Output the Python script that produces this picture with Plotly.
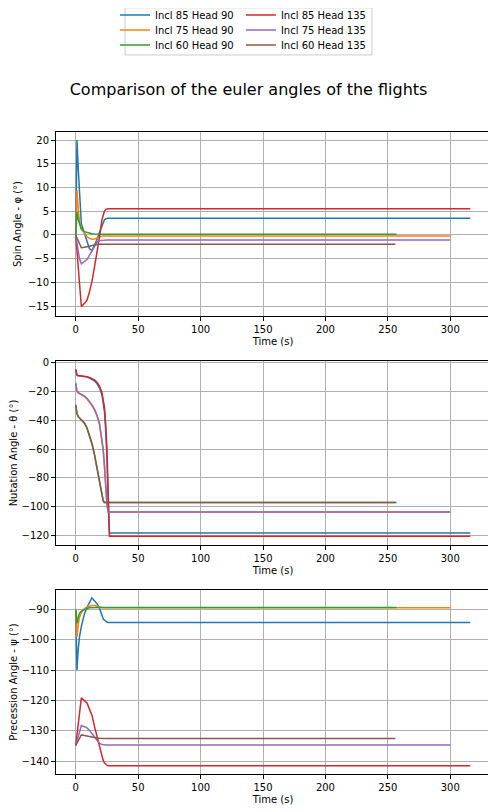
import plotly.graph_objects as go
from plotly.subplots import make_subplots

# sample times (s), shared by every flight, then the last time of each flight
t_early = [0, 1, 2, 3, 4.5, 7, 9, 11, 13, 15, 17, 19, 21, 22, 23, 24, 25, 26, 27]
end_85_90 = 316
end_75_90 = 300
end_60_90 = 257
end_85_135 = 316
end_75_135 = 300
end_60_135 = 256

# spin angle phi (deg)
spin_85_90 = [0, 20, 14, 8, 2.3, 0.3, -1.5, -2.9, -3.3, -2.2, -1.0, 0.5, 2.0, 2.8, 3.2, 3.4, 3.5, 3.5, 3.5, 3.5]
spin_75_90 = [0, 9.5, 5.3, 3.0, 1.3, 0.3, -0.35, -0.7, -0.9, -0.85, -0.6, -0.35, -0.25, -0.2, -0.2, -0.2, -0.2, -0.2, -0.2, -0.2]
spin_60_90 = [0, 4.9, 3.2, 2.2, 1.2, 0.7, 0.5, 0.35, 0.25, 0.2, 0.15, 0.15, 0.15, 0.15, 0.15, 0.15, 0.15, 0.15, 0.15, 0.15]
spin_85_135 = [0, -3.4, -6.9, -10.3, -15.1, -14.4, -13.8, -12.0, -9.8, -6.8, -3.9, -0.5, 3.2, 4.3, 5.0, 5.4, 5.5, 5.5, 5.5, 5.5]
spin_75_135 = [0, -1.5, -3.5, -5.0, -6.1, -5.7, -5.2, -4.3, -3.4, -2.4, -1.5, -1.2, -1.1, -1.05, -1.05, -1.05, -1.05, -1.05, -1.05, -1.05]
spin_60_135 = [0, -0.6, -1.5, -2.1, -2.7, -2.6, -2.45, -2.3, -2.2, -2.1, -2.0, -1.95, -1.95, -1.95, -1.95, -1.95, -1.95, -1.95, -1.95, -1.95]

# nutation angle theta (deg)
nut_85_90 = [-5, -9.2, -9.4, -9.5, -9.6, -9.9, -10.3, -11.0, -11.8, -13.0, -14.8, -17.8, -22.5, -27, -34, -47, -66, -97, -118, -118]
nut_75_90 = [-14.5, -20.3, -21.2, -21.7, -22.2, -23.8, -25.3, -27.4, -30, -33, -37, -43, -53, -61, -72, -86, -99, -103.5, -103.5, -103.5]
nut_60_90 = [-29.5, -35.8, -37.8, -38.8, -39.8, -42.3, -45.6, -50.4, -56.5, -64, -72.5, -82.5, -91.5, -96, -97, -97, -97, -97, -97, -97]
nut_85_135 = [-5, -9.0, -9.2, -9.3, -9.4, -9.6, -10.0, -10.6, -11.3, -12.3, -13.8, -16.5, -21, -25, -31, -43, -60, -90, -120.3, -120.3]
nut_75_135 = [-14.5, -20, -21, -21.5, -22, -23.5, -25, -27, -29.5, -32.5, -36.5, -42, -52, -60, -71, -85, -98, -103.5, -103.5, -103.5]
nut_60_135 = [-29.5, -35.5, -37.5, -38.5, -39.5, -42, -45.3, -50, -56, -63.5, -72, -82, -91, -95.5, -97, -97, -97, -97, -97, -97]

# precession angle psi (deg)
prec_85_90 = [-90, -110, -103, -99, -95.5, -91.3, -89.2, -87.5, -86.1, -87.1, -88.0, -89.5, -92.2, -93.0, -93.5, -93.9, -94.1, -94.2, -94.2, -94.2]
prec_75_90 = [-90, -99, -95, -92.5, -91, -89.6, -89.1, -88.8, -88.6, -88.6, -88.9, -89.2, -89.4, -89.4, -89.4, -89.4, -89.4, -89.4, -89.4, -89.4]
prec_60_90 = [-90, -94.5, -92.5, -91.2, -90.5, -89.9, -89.6, -89.4, -89.3, -89.3, -89.3, -89.3, -89.3, -89.3, -89.3, -89.3, -89.3, -89.3, -89.3, -89.3]
prec_85_135 = [-134.8, -131.2, -127.7, -124.3, -119.1, -120.0, -120.8, -122.8, -124.8, -128.5, -132, -135.5, -138.5, -139.7, -140.5, -141, -141.3, -141.5, -141.5, -141.5]
prec_75_135 = [-134.8, -133.1, -131.6, -130.1, -128.2, -128.6, -129.0, -129.8, -130.7, -131.9, -133.1, -134.0, -134.5, -134.6, -134.6, -134.6, -134.6, -134.6, -134.6, -134.6]
prec_60_135 = [-134.8, -133.9, -133.1, -132.3, -131.3, -131.5, -131.7, -131.9, -132.1, -132.2, -132.3, -132.4, -132.5, -132.5, -132.5, -132.5, -132.5, -132.5, -132.5, -132.5]

flights = [
    ("Incl 85 Head 90", end_85_90, spin_85_90, nut_85_90, prec_85_90, "#1f77b4"),
    ("Incl 75 Head 90", end_75_90, spin_75_90, nut_75_90, prec_75_90, "#ff7f0e"),
    ("Incl 60 Head 90", end_60_90, spin_60_90, nut_60_90, prec_60_90, "#2ca02c"),
    ("Incl 85 Head 135", end_85_135, spin_85_135, nut_85_135, prec_85_135, "#d62728"),
    ("Incl 75 Head 135", end_75_135, spin_75_135, nut_75_135, prec_75_135, "#9467bd"),
    ("Incl 60 Head 135", end_60_135, spin_60_135, nut_60_135, prec_60_135, "#8c564b"),
]

fig = make_subplots(rows=3, cols=1, vertical_spacing=0.07)

legend_ids = ["legend", "legend2", "legend3", "legend4", "legend5", "legend6"]
for i, (name, t_end, spin, nut, prec, color) in enumerate(flights):
    t = t_early + [t_end]
    for row, vals in enumerate([spin, nut, prec], start=1):
        fig.add_trace(go.Scatter(
            x=t, y=vals, mode="lines", name=name, legend=legend_ids[i],
            line=dict(color=color, width=1.5),
            showlegend=(row == 1)
        ), row=row, col=1)

font = dict(family="DejaVu Sans", size=10, color="black")
axis_style = dict(showline=True, mirror=True, linecolor="black", linewidth=1,
                  ticks="outside", ticklen=4, tickcolor="black",
                  showgrid=True, gridcolor="#b0b0b0", gridwidth=0.8,
                  zeroline=False, tickfont=font)

fig.update_xaxes(range=[-15.8, 331.8], dtick=50,
                 title=dict(text="Time (s)", font=font, standoff=3), **axis_style)
fig.update_yaxes(**axis_style)
fig.update_yaxes(range=[-17.1, 21.7], dtick=5, row=1, col=1,
                 title=dict(text="Spin Angle - φ (°)", font=font, standoff=4))
fig.update_yaxes(range=[-126.3, 0.8], dtick=20, row=2, col=1,
                 title=dict(text="Nutation Angle - θ (°)", font=font, standoff=4))
fig.update_yaxes(range=[-144.2, -83.5], dtick=10, row=3, col=1,
                 title=dict(text="Precession Angle - ψ (°)", font=font, standoff=4))

# two columns of three entries, one small legend per entry
legend_x = [0.136, 0.136, 0.136, 0.426, 0.426, 0.426]
legend_y = [1.1822, 1.1589, 1.1355, 1.1822, 1.1589, 1.1355]
legends = {}
for lid, lx, ly in zip(legend_ids, legend_x, legend_y):
    legends[lid] = dict(x=lx, y=ly, xanchor="left", yanchor="middle", font=font,
                        bgcolor="rgba(0,0,0,0)", borderwidth=0)

fig.update_layout(
    width=496, height=812,
    margin=dict(l=48, r=14, t=124, b=46, autoexpand=False),
    paper_bgcolor="white", plot_bgcolor="white",
    font=font,
    title=dict(text="Comparison of the euler angles of the flights",
               font=dict(family="DejaVu Sans", size=16, color="black"),
               x=0.485, xref="container", xanchor="center",
               y=1 - 81 / 812, yref="container", yanchor="middle"),
    shapes=[dict(type="rect", xref="paper", yref="paper",
                 x0=0.159, x1=0.728, y0=1.12, y1=1.1934,
                 line=dict(color="#cccccc", width=1))],
    **legends,
)

fig.write_html("out.html")
